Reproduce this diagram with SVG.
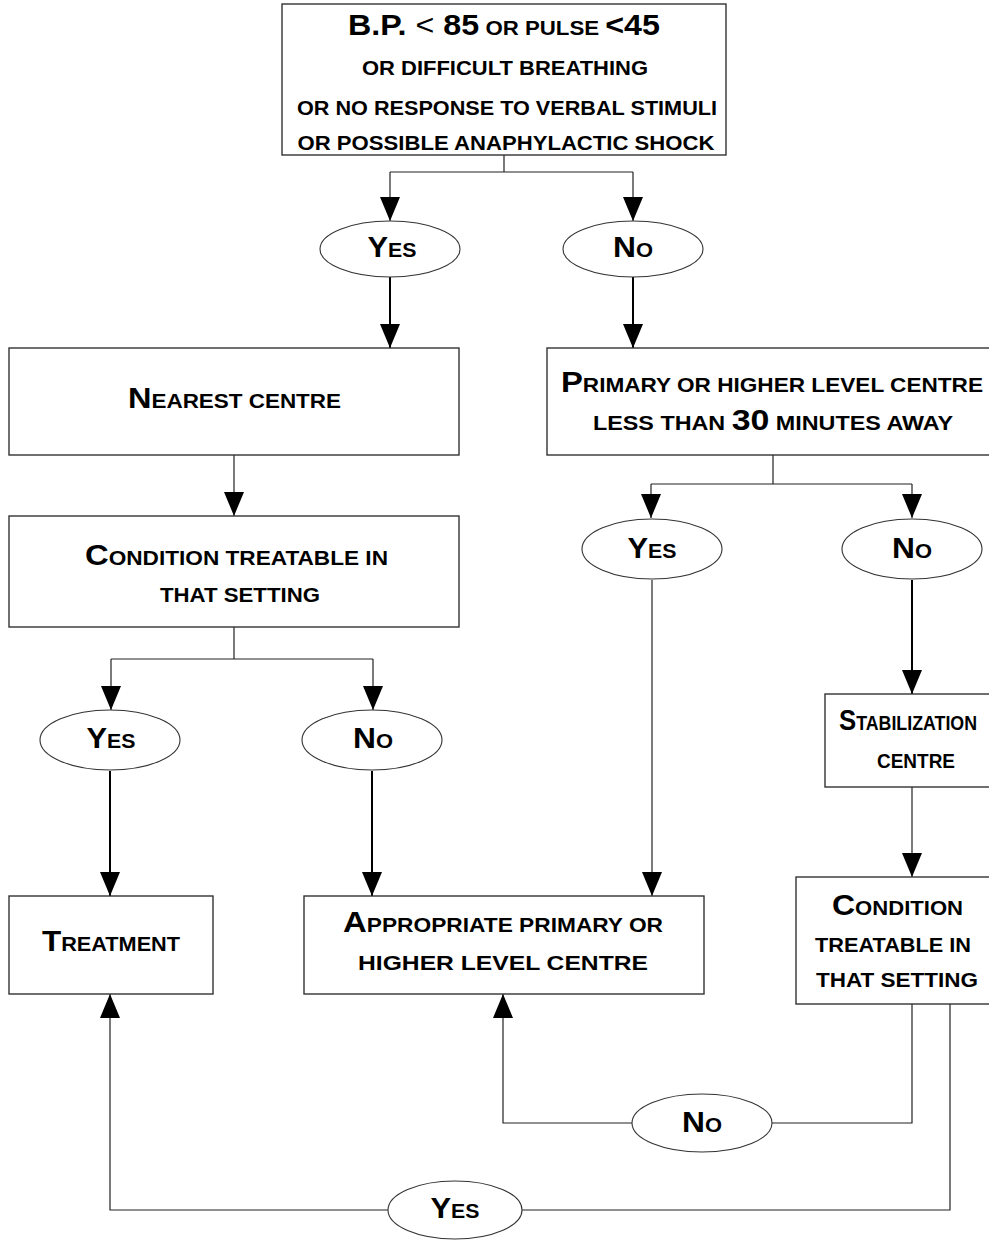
<svg xmlns="http://www.w3.org/2000/svg" width="989" height="1240" viewBox="0 0 989 1240">
<defs>
<marker id="ah" viewBox="0 0 24 20" markerUnits="userSpaceOnUse" markerWidth="24" markerHeight="20" refX="24" refY="10" orient="auto"><path d="M0,0 L24,10 L0,20 z" fill="#000"/></marker>
<style>
.box{fill:#fff;stroke:#333;stroke-width:1.4}
.ell{fill:#fff;stroke:#333;stroke-width:1.1}
.t{font-family:"Liberation Sans",Arial,sans-serif;font-weight:bold;font-size:20px;fill:#000;text-anchor:middle}
.b{font-size:29px}
.n{font-weight:normal}
.thin{fill:none;stroke:#222;stroke-width:1.2}
.thick{fill:none;stroke:#000;stroke-width:2}
.arr{marker-end:url(#ah)}
</style>
</defs>
<rect width="989" height="1240" fill="#fff"/>

<g id="connectors">
<path class="thin" d="M504,155 V172 M390,172 H633"/>
<path class="thin arr" d="M390,172 V221"/>
<path class="thin arr" d="M633,172 V221"/>
<path class="thick arr" d="M390,277 V348"/>
<path class="thick arr" d="M633,277 V348"/>
<path class="thin arr" d="M234,455 V516"/>
<path class="thin" d="M234,627 V659 M111,659 H373"/>
<path class="thin arr" d="M111,659 V710"/>
<path class="thin arr" d="M373,659 V710"/>
<path class="thick arr" d="M110,771 V896"/>
<path class="thick arr" d="M372,771 V896"/>
<path class="thin" d="M773,455 V484 M651,484 H912"/>
<path class="thin arr" d="M651,484 V518"/>
<path class="thin arr" d="M912,484 V518"/>
<path class="thin arr" d="M652,580 V896"/>
<path class="thick arr" d="M912,580 V694"/>
<path class="thin arr" d="M912,787 V877"/>
<path class="thin" d="M912,1004 V1123 H772"/>
<path class="thin arr" d="M632,1123 H503 V994"/>
<path class="thin" d="M950,1004 V1210 H522"/>
<path class="thin arr" d="M388,1210 H110 V994"/>
</g>

<g id="start">
<rect class="box" x="282" y="4" width="444" height="151"/>
<text class="t" x="504" y="35" textLength="312" lengthAdjust="spacingAndGlyphs"><tspan class="b">B.P. </tspan><tspan class="b n">&lt;</tspan><tspan class="b"> 85</tspan> OR PULSE <tspan class="b">&lt;45</tspan></text>
<text class="t" x="505" y="75" textLength="286" lengthAdjust="spacingAndGlyphs">OR DIFFICULT BREATHING</text>
<text class="t" x="507" y="115" textLength="420" lengthAdjust="spacingAndGlyphs">OR NO RESPONSE TO VERBAL STIMULI</text>
<text class="t" x="506" y="150" textLength="417" lengthAdjust="spacingAndGlyphs">OR POSSIBLE ANAPHYLACTIC SHOCK</text>
</g>

<g id="yes1">
<ellipse class="ell" cx="390" cy="249" rx="70" ry="28"/>
<text class="t" x="392" y="257" textLength="49" lengthAdjust="spacingAndGlyphs"><tspan class="b">Y</tspan>ES</text>
</g>
<g id="no1">
<ellipse class="ell" cx="633" cy="249" rx="70" ry="28"/>
<text class="t" x="633" y="257" textLength="40" lengthAdjust="spacingAndGlyphs"><tspan class="b">N</tspan>O</text>
</g>

<g id="nearest">
<rect class="box" x="9" y="348" width="450" height="107"/>
<text class="t" x="234.5" y="408" textLength="213" lengthAdjust="spacingAndGlyphs"><tspan class="b">N</tspan>EAREST CENTRE</text>
</g>

<g id="primary">
<rect class="box" x="547" y="348" width="452" height="107"/>
<text class="t" x="772" y="392" textLength="422" lengthAdjust="spacingAndGlyphs"><tspan class="b">P</tspan>RIMARY OR HIGHER LEVEL CENTRE</text>
<text class="t" x="773" y="430" textLength="360" lengthAdjust="spacingAndGlyphs">LESS THAN <tspan class="b">30</tspan> MINUTES AWAY</text>
</g>

<g id="condition1">
<rect class="box" x="9" y="516" width="450" height="111"/>
<text class="t" x="236.5" y="565" textLength="303" lengthAdjust="spacingAndGlyphs"><tspan class="b">C</tspan>ONDITION TREATABLE IN</text>
<text class="t" x="240" y="602" textLength="160" lengthAdjust="spacingAndGlyphs">THAT SETTING</text>
</g>

<g id="yes2">
<ellipse class="ell" cx="652" cy="549" rx="70" ry="30"/>
<text class="t" x="652" y="558" textLength="49" lengthAdjust="spacingAndGlyphs"><tspan class="b">Y</tspan>ES</text>
</g>
<g id="no2">
<ellipse class="ell" cx="912" cy="549" rx="70" ry="30"/>
<text class="t" x="912" y="558" textLength="40" lengthAdjust="spacingAndGlyphs"><tspan class="b">N</tspan>O</text>
</g>

<g id="yes3">
<ellipse class="ell" cx="110" cy="740" rx="70" ry="30"/>
<text class="t" x="111" y="748" textLength="49" lengthAdjust="spacingAndGlyphs"><tspan class="b">Y</tspan>ES</text>
</g>
<g id="no3">
<ellipse class="ell" cx="372" cy="740" rx="70" ry="30"/>
<text class="t" x="373" y="748" textLength="40" lengthAdjust="spacingAndGlyphs"><tspan class="b">N</tspan>O</text>
</g>

<g id="stabilization">
<rect class="box" x="825" y="694" width="174" height="93"/>
<text class="t" x="908" y="730" textLength="138" lengthAdjust="spacingAndGlyphs"><tspan class="b">S</tspan>TABILIZATION</text>
<text class="t" x="916" y="768" textLength="78" lengthAdjust="spacingAndGlyphs">CENTRE</text>
</g>

<g id="treatment">
<rect class="box" x="9" y="896" width="204" height="98"/>
<text class="t" x="111" y="951" textLength="138" lengthAdjust="spacingAndGlyphs"><tspan class="b">T</tspan>REATMENT</text>
</g>

<g id="appropriate">
<rect class="box" x="304" y="896" width="400" height="98"/>
<text class="t" x="503" y="932" textLength="320" lengthAdjust="spacingAndGlyphs"><tspan class="b">A</tspan>PPROPRIATE PRIMARY OR</text>
<text class="t" x="503" y="970" textLength="290" lengthAdjust="spacingAndGlyphs">HIGHER LEVEL CENTRE</text>
</g>

<g id="condition2">
<rect class="box" x="796" y="877" width="203" height="127"/>
<text class="t" x="897.5" y="915" textLength="131" lengthAdjust="spacingAndGlyphs"><tspan class="b">C</tspan>ONDITION</text>
<text class="t" x="893" y="952" textLength="156" lengthAdjust="spacingAndGlyphs">TREATABLE IN</text>
<text class="t" x="897" y="987" textLength="162" lengthAdjust="spacingAndGlyphs">THAT SETTING</text>
</g>

<g id="no4">
<ellipse class="ell" cx="702" cy="1123" rx="70" ry="29"/>
<text class="t" x="702" y="1132" textLength="40" lengthAdjust="spacingAndGlyphs"><tspan class="b">N</tspan>O</text>
</g>
<g id="yes4">
<ellipse class="ell" cx="455" cy="1210" rx="67" ry="29"/>
<text class="t" x="455" y="1218" textLength="49" lengthAdjust="spacingAndGlyphs"><tspan class="b">Y</tspan>ES</text>
</g>
</svg>
